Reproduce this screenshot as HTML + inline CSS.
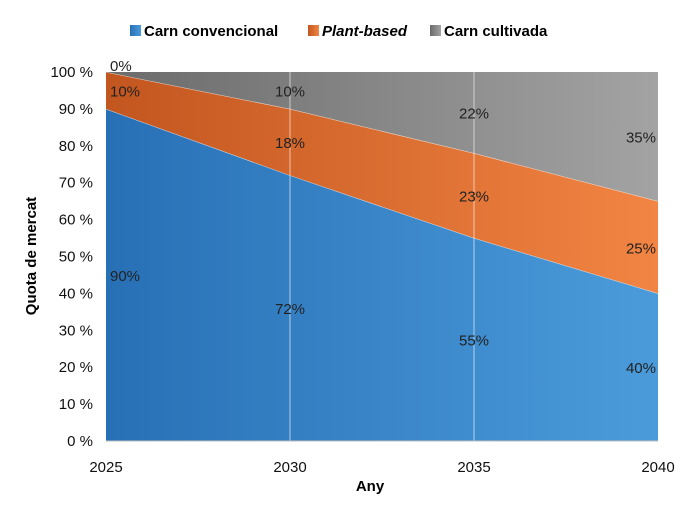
<!DOCTYPE html>
<html><head><meta charset="utf-8"><style>
body{margin:0;background:#fff;}
svg{display:block;font-family:"Liberation Sans",sans-serif;}
</style></head><body>
<svg id="chart" width="693" height="509" viewBox="0 0 693 509">
<defs>
<linearGradient id="gBlue" x1="0" x2="1" y1="0" y2="0"><stop offset="0" stop-color="#2870b6"/><stop offset="1" stop-color="#4b9bda"/></linearGradient>
<linearGradient id="gOrange" x1="0" x2="1" y1="0" y2="0"><stop offset="0" stop-color="#c2561f"/><stop offset="1" stop-color="#f28543"/></linearGradient>
<linearGradient id="gGray" x1="0" x2="1" y1="0" y2="0"><stop offset="0" stop-color="#6b6b6b"/><stop offset="1" stop-color="#a3a3a3"/></linearGradient>
</defs>
<g id="legend">
<g><rect x="130" y="25" width="11" height="11" fill="url(#gBlue)"/><text x="144" y="36" font-size="15" font-weight="bold">Carn convencional</text></g>
<g><rect x="308" y="25" width="11" height="11" fill="url(#gOrange)"/><text x="322" y="36" font-size="15" font-weight="bold" font-style="italic">Plant-based</text></g>
<g><rect x="430" y="25" width="11" height="11" fill="url(#gGray)"/><text x="444" y="36" font-size="15" font-weight="bold">Carn cultivada</text></g>
</g>
<g id="areas"></g>
<g id="axes"></g>
<g id="labels"></g>
<text x="370" y="491" font-size="15" font-weight="bold" text-anchor="middle">Any</text>
<text transform="translate(36,256) rotate(-90)" font-size="15" font-weight="bold" text-anchor="middle">Quota de mercat</text>
</svg>
<script>
const years=["2025","2030","2035","2040"];
const conventional=[90,72,55,40];
const plantBased=[10,18,23,25];
const cultivated=[0,10,22,35];
const yTicks=[0,10,20,30,40,50,60,70,80,90,100];
const NS="http://www.w3.org/2000/svg";
const x0=106,x1=658,yTop=72,yBot=441;
const xs=i=>x0+(x1-x0)*i/(years.length-1);
const ys=v=>yBot-(yBot-yTop)*v/100;
function mk(tag,attrs,parent){const e=document.createElementNS(NS,tag);for(const k in attrs)e.setAttribute(k,attrs[k]);parent.appendChild(e);return e;}
const areas=document.getElementById('areas'),axes=document.getElementById('axes'),labels=document.getElementById('labels');
const series=[conventional,plantBased,cultivated];
const names=['conventional','plant-based','cultivated'];
const fills=['url(#gBlue)','url(#gOrange)','url(#gGray)'];
let base=years.map(()=>0);
series.forEach((s,si)=>{
  const top=base.map((b,i)=>b+s[i]);
  let pts=top.map((v,i)=>xs(i)+','+ys(v));
  for(let i=years.length-1;i>=0;i--)pts.push(xs(i)+','+ys(base[i]));
  const p=mk('polygon',{points:pts.join(' '),fill:fills[si]},areas);
  
  
  s.forEach((v,i)=>{
    const mid=(base[i]+top[i])/2;
    let tx=xs(i),anchor='middle';
    if(i===0){tx=x0+4;anchor='start';}
    if(i===years.length-1){tx=x1-2;anchor='end';}
    let yy=ys(mid)+6;
    if(v===0)yy=ys(top[i])-1;
    const t=mk('text',{x:tx,y:yy,'font-size':15,'text-anchor':anchor,fill:'#222'},labels);
    t.textContent=v+'%';
    
    
  });
  // separator line
  if(si<series.length-1){
    const l=mk('polyline',{points:top.map((v,i)=>xs(i)+','+ys(v)).join(' '),fill:'none',stroke:'#ffffff','stroke-opacity':0.7,'stroke-width':1},areas);
    
    
  }
  base=top;
});
years.forEach((y,i)=>{
  if(i>0&&i<years.length-1){
    const g=mk('line',{x1:xs(i),x2:xs(i),y1:yTop,y2:yBot,stroke:'#ffffff','stroke-opacity':0.6},axes);
    
    
  }
  const t=mk('text',{x:xs(i),y:yBot+31,'font-size':15,'text-anchor':'middle',fill:'#111'},axes);
  t.textContent=y;
  
  
});
yTicks.forEach(v=>{
  const t=mk('text',{x:93,y:ys(v)+5,'font-size':15,'text-anchor':'end',fill:'#111'},axes);
  t.textContent=v+' %';
  
  
});
const ax=mk('line',{x1:x0,x2:x1,y1:yBot,y2:yBot,stroke:'#bfbfbf'},axes);


</script>
</body></html>
